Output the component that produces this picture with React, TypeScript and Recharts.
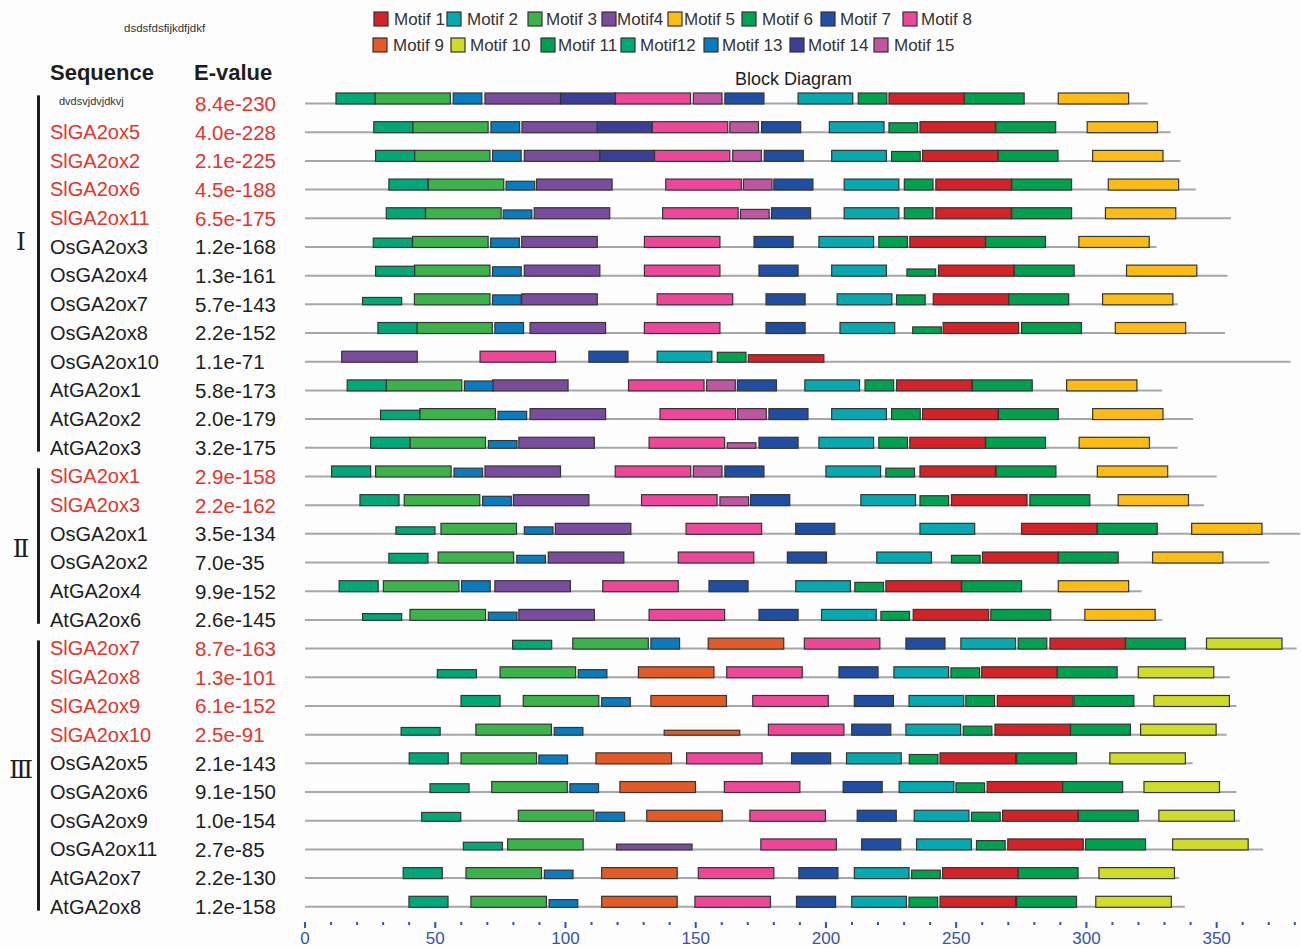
import React from "react";
import { BarChart, Bar, XAxis, YAxis } from "recharts";

// sequence rows, top to bottom
const sequences = [
  "dvdsvjdvjdkvj", "SlGA2ox5", "SlGA2ox2", "SlGA2ox6", "SlGA2ox11", "OsGA2ox3", "OsGA2ox4",
  "OsGA2ox7", "OsGA2ox8", "OsGA2ox10", "AtGA2ox1", "AtGA2ox2", "AtGA2ox3",
  "SlGA2ox1", "SlGA2ox3", "OsGA2ox1", "OsGA2ox2", "AtGA2ox4", "AtGA2ox6",
  "SlGA2ox7", "SlGA2ox8", "SlGA2ox9", "SlGA2ox10", "OsGA2ox5", "OsGA2ox6", "OsGA2ox9",
  "OsGA2ox11", "AtGA2ox7", "AtGA2ox8",
];

const eValues = [
  "8.4e-230", "4.0e-228", "2.1e-225", "4.5e-188", "6.5e-175", "1.2e-168", "1.3e-161",
  "5.7e-143", "2.2e-152", "1.1e-71", "5.8e-173", "2.0e-179", "3.2e-175",
  "2.9e-158", "2.2e-162", "3.5e-134", "7.0e-35", "9.9e-152", "2.6e-145",
  "8.7e-163", "1.3e-101", "6.1e-152", "2.5e-91", "2.1e-143", "9.1e-150", "1.0e-154",
  "2.7e-85", "2.2e-130", "1.2e-158",
];

const seqLengths = [
  323.5, 332.3, 336.1, 342.0, 355.5, 326.9, 354.2, 335.0, 353.2, 378.4, 329.1, 341.0, 335.0,
  350.0, 345.1, 382.0, 370.2, 321.2, 329.1,
  380.7, 355.1, 357.6, 353.8, 340.8, 357.6, 358.9, 367.9, 335.6, 337.8,
];

// motif site start positions per sequence (null = motif not found)
const motif1Starts = [224.2, 236.1, 237.1, 242.2, 242.2, 232.2, 243.2, 241.2, 245.0, 170.2, 227.1, 237.1, 232.2, 236.1, 248.2, 275.1, 260.1, 223.0, 233.5, 286.0, 259.8, 265.8, 264.9, 243.8, 261.9, 267.8, 269.8, 244.8, 243.8];
const motif2Starts = [189.3, 201.3, 202.2, 207.0, 207.0, 197.3, 202.2, 204.3, 205.4, 135.2, 191.9, 202.2, 197.3, 200.0, 213.4, 236.1, 219.5, 188.4, 198.3, 251.8, 226.1, 231.9, 230.7, 207.9, 228.1, 233.9, 234.8, 210.9, 209.9];
const motif3Starts = [26.8, 41.3, 42.0, 47.3, 46.3, 41.3, 42.0, 42.0, 42.9, null, 31.2, 44.1, 40.3, 27.1, 38.1, 52.2, 51.1, 30.1, 40.3, 102.8, 74.9, 83.8, 65.6, 59.9, 71.7, 81.9, 77.8, 61.8, 63.7];
const motif4Starts = [69.1, 83.3, 84.2, 88.9, 88.0, 83.2, 84.2, 83.2, 86.4, 14.1, 72.0, 86.4, 82.1, 69.1, 80.0, 96.1, 93.4, 72.9, 82.1, null, null, null, null, null, null, null, 119.6, null, null];
const motif5Starts = [289.2, 300.3, 302.4, 308.4, 307.3, 297.1, 315.4, 306.2, 311.1, null, 292.4, 302.4, 297.2, 304.2, 312.2, 340.4, 325.4, 289.2, 299.4, null, null, null, null, null, null, null, null, null, null];
const motif6Starts = [212.4, 224.2, 225.2, 230.1, 230.1, 220.3, 231.1, 227.1, 233.3, 158.3, 215.0, 225.2, 220.3, 223.0, 236.1, null, 248.2, 211.1, 221.1, 273.8, 248.0, 253.7, 252.7, 232.0, 249.9, 255.9, 257.8, 232.9, 231.9];
const motif7Starts = [161.2, 175.3, 176.3, 180.0, 179.1, 172.4, 174.3, 177.0, 177.0, 109.0, 166.0, 178.1, 174.3, 161.2, 171.1, 188.4, 185.2, 155.1, 174.3, 230.7, 205.0, 210.9, 209.9, 186.8, 206.6, 212.0, 213.7, 189.6, 188.7];
const motif8Starts = [119.0, 133.3, 134.1, 138.5, 137.3, 130.3, 130.3, 135.2, 130.3, 67.2, 124.2, 136.3, 132.1, 119.1, 129.2, 146.3, 143.3, 114.3, 132.1, 191.7, 161.9, 171.9, 177.9, 146.5, 161.0, 170.8, 175.0, 151.0, 149.7];
const motif9Starts = [null, null, null, null, null, null, null, null, null, null, null, null, null, null, null, null, null, null, null, 154.8, 128.0, 132.8, 137.9, 111.7, 120.9, 131.2, null, 113.9, 113.9];
const motif10Starts = [null, null, null, null, null, null, null, null, null, null, null, null, null, null, null, null, null, null, null, 346.1, 319.9, 325.9, 320.8, 309.0, 322.1, 327.8, 333.1, 304.8, 303.6];
const motif11Starts = [253.1, 265.2, 266.1, 271.3, 271.3, 261.3, 272.3, 270.2, 275.1, null, 256.2, 266.2, 261.3, 265.3, 278.3, 304.2, 289.2, 252.1, 263.3, 315.0, 288.8, 295.2, 293.9, 273.2, 290.9, 296.9, 299.7, 273.8, 273.2];
const motif12Starts = [11.9, 26.4, 27.1, 32.2, 31.2, 26.2, 27.1, 22.1, 28.0, null, 16.2, 29.0, 25.2, 10.2, 21.1, 34.9, 32.2, 13.1, 22.1, 79.7, 50.8, 59.9, 36.9, 40.0, 48.0, 44.8, 60.8, 37.7, 39.9];
const motif13Starts = [56.9, 71.4, 72.0, 77.2, 76.1, 71.3, 72.0, 72.0, 72.9, null, 61.2, 74.1, 70.4, 57.2, 68.2, 84.2, 81.3, 60.1, 70.4, 132.8, 104.9, 113.9, 95.7, 89.8, 101.7, 111.7, null, 91.9, 93.7];
const motif14Starts = [98.2, 112.2, 113.2, null, null, null, null, null, null, null, null, null, null, null, null, null, null, null, null, null, null, null, null, null, null, null, null, null, null];
const motif15Starts = [149.1, 163.1, 164.2, 168.3, 167.2, null, null, null, null, null, 154.2, 166.1, 162.1, 149.1, 159.3, null, null, null, null, null, null, null, null, null, null, null, null, null, null];

const motifStarts = [
  motif1Starts, motif2Starts, motif3Starts, motif4Starts, motif5Starts,
  motif6Starts, motif7Starts, motif8Starts, motif9Starts, motif10Starts,
  motif11Starts, motif12Starts, motif13Starts, motif14Starts, motif15Starts,
];

// motif widths in residues
const motifLengths = [29, 21, 29, 29, 27, 11, 15, 29, 29, 29, 23, 15, 11, 21, 11];

const motifNames = [
  "Motif 1", "Motif 2", "Motif 3", "Motif4", "Motif 5", "Motif 6", "Motif 7", "Motif 8",
  "Motif 9", "Motif 10", "Motif 11", "Motif12", "Motif 13", "Motif 14", "Motif 15",
];

const motifColors = [
  "#d42229", "#07a9b1", "#3bb34a", "#794c9e", "#fcbb15", "#00a24f", "#1f4ea2", "#ee4698",
  "#e35a26", "#cfdc2a", "#00a04e", "#00a877", "#0a7bbf", "#3b3f98", "#bf56a1",
];

// weaker sites drawn with reduced box height: [sequence, motif, relative height]
const partialHits: [string, number, number][] = [
  ["SlGA2ox5", 6, 0.9], ["SlGA2ox2", 6, 0.9],
  ["SlGA2ox6", 13, 0.8], ["SlGA2ox11", 13, 0.8], ["SlGA2ox11", 15, 0.85],
  ["OsGA2ox3", 12, 0.85], ["OsGA2ox3", 13, 0.85],
  ["OsGA2ox4", 12, 0.9], ["OsGA2ox4", 13, 0.85], ["OsGA2ox4", 6, 0.65],
  ["OsGA2ox7", 12, 0.67], ["OsGA2ox7", 13, 0.9], ["OsGA2ox7", 6, 0.9],
  ["OsGA2ox8", 6, 0.6], ["OsGA2ox10", 6, 0.9], ["OsGA2ox10", 1, 0.68],
  ["AtGA2ox1", 13, 0.9], ["AtGA2ox2", 12, 0.85], ["AtGA2ox2", 13, 0.75],
  ["AtGA2ox3", 13, 0.7], ["AtGA2ox3", 15, 0.5],
  ["SlGA2ox1", 13, 0.8], ["SlGA2ox1", 6, 0.8],
  ["SlGA2ox3", 13, 0.85], ["SlGA2ox3", 15, 0.8], ["SlGA2ox3", 6, 0.9],
  ["OsGA2ox1", 12, 0.68], ["OsGA2ox1", 13, 0.68],
  ["OsGA2ox2", 12, 0.88], ["OsGA2ox2", 13, 0.7], ["OsGA2ox2", 6, 0.7],
  ["AtGA2ox4", 6, 0.85], ["AtGA2ox6", 12, 0.62], ["AtGA2ox6", 13, 0.75], ["AtGA2ox6", 6, 0.82],
  ["SlGA2ox7", 12, 0.8], ["SlGA2ox8", 12, 0.74], ["SlGA2ox8", 13, 0.74], ["SlGA2ox8", 6, 0.9],
  ["SlGA2ox9", 13, 0.8],
  ["SlGA2ox10", 12, 0.7], ["SlGA2ox10", 13, 0.7], ["SlGA2ox10", 9, 0.45], ["SlGA2ox10", 6, 0.82],
  ["OsGA2ox5", 13, 0.8], ["OsGA2ox5", 6, 0.85],
  ["OsGA2ox6", 12, 0.8], ["OsGA2ox6", 13, 0.8], ["OsGA2ox6", 6, 0.88],
  ["OsGA2ox9", 12, 0.8], ["OsGA2ox9", 13, 0.82], ["OsGA2ox9", 6, 0.82],
  ["OsGA2ox11", 12, 0.7], ["OsGA2ox11", 4, 0.53], ["OsGA2ox11", 6, 0.85],
  ["AtGA2ox7", 13, 0.77], ["AtGA2ox7", 6, 0.77],
  ["AtGA2ox8", 13, 0.7], ["AtGA2ox8", 6, 0.92],
];

const groups = [
  { label: "Ⅰ", first: "dvdsvjdvjdkvj", last: "AtGA2ox3", labelAt: 5 },
  { label: "Ⅱ", first: "SlGA2ox1", last: "AtGA2ox6", labelAt: 15.7 },
  { label: "Ⅲ", first: "SlGA2ox7", last: "AtGA2ox8", labelAt: 23.4 },
];

const axisTicks = [
  0, 10, 20, 30, 40, 50, 60, 70, 80, 90, 100, 110, 120, 130, 140, 150, 160, 170, 180, 190,
  200, 210, 220, 230, 240, 250, 260, 270, 280, 290, 300, 310, 320, 330, 340, 350, 360, 370, 380,
];

const chartData = sequences.map((name, i) => {
  const row: Record<string, any> = { name, seq: [0, seqLengths[i]] };
  motifStarts.forEach((starts, k) => {
    const s = starts[i];
    row[`m${k + 1}`] = s == null ? null : [s, s + motifLengths[k]];
    row[`f${k + 1}`] = 1;
  });
  return row;
});
partialHits.forEach(([name, motif, frac]) => {
  chartData[sequences.indexOf(name)][`f${motif}`] = frac;
});

const W = 1301;
const H = 948;
const TOP = 84;
const PLOT_BOTTOM = 916;
const BAND = (PLOT_BOTTOM - TOP) / sequences.length;
const FONT = '"Liberation Sans", Arial, Helvetica, sans-serif';
const RED = "#e4342b";
const INK = "#1e1e1e";
const AXIS_BLUE = "#3552ad";

const motifShape = (k: number) => (props: any) => {
  const { x, y, width, height, payload } = props;
  if (!(width > 0)) return <g />;
  const h = height * (payload[`f${k}`] ?? 1);
  return (
    <rect
      x={x}
      y={y + height - h}
      width={width}
      height={h}
      fill={motifColors[k - 1]}
      stroke="#353535"
      strokeWidth={1.2}
    />
  );
};

const backboneShape = (props: any) => {
  const { x, y, width, height } = props;
  if (!(width > 0)) return <g />;
  const ly = y + height - 0.5;
  return <line x1={x} x2={x + width} y1={ly} y2={ly} stroke="#a3a8ab" strokeWidth={2} />;
};

function SequenceTick(props: any) {
  const { y, payload } = props;
  const i = sequences.indexOf(payload.value);
  const name = sequences[i];
  const highlight = name.startsWith("Sl");
  const g = groups.find(
    (gr) => i >= sequences.indexOf(gr.first) && i <= sequences.indexOf(gr.last)
  )!;
  const first = i === sequences.indexOf(g.first);
  const last = i === sequences.indexOf(g.last);
  const top = first ? y - 3 : y - BAND / 2 - 0.5;
  const bottom = last ? y + 9 : y + BAND / 2 + 0.5;
  const showLabel = Math.floor(g.labelAt) === i;
  return (
    <g>
      <rect x={37} y={top} width={3} height={bottom - top} fill={INK} />
      {showLabel && (
        <text
          x={21}
          y={y + (g.labelAt - i) * BAND}
          textAnchor="middle"
          dominantBaseline="central"
          fontFamily='"DejaVu Serif", "Liberation Serif", serif'
          fontSize={25}
          fill={INK}
        >
          {g.label}
        </text>
      )}
      {i === 0 ? (
        <text x={59} y={y + 3} dominantBaseline="central" fontFamily={FONT} fontSize={11} fill="#333">
          {name}
        </text>
      ) : (
        <text
          x={50}
          y={y + 5}
          dominantBaseline="central"
          fontFamily={FONT}
          fontSize={20}
          fill={highlight ? RED : INK}
        >
          {name}
        </text>
      )}
      <text
        x={195}
        y={y + 5}
        dominantBaseline="central"
        fontFamily={FONT}
        fontSize={20.5}
        fill={highlight || i === 0 ? RED : INK}
      >
        {eValues[i]}
      </text>
    </g>
  );
}

function PositionTick(props: any) {
  const { x, y, payload } = props;
  const v = payload.value as number;
  if (v % 50 !== 0) {
    return <rect x={x - 1} y={y + 6} width={2} height={3} fill={AXIS_BLUE} />;
  }
  return (
    <g>
      <rect x={x - 1} y={y + 6} width={2} height={6} fill={AXIS_BLUE} />
      <text
        x={x}
        y={y + 22}
        textAnchor="middle"
        dominantBaseline="central"
        fontFamily={FONT}
        fontSize={17}
        fill={AXIS_BLUE}
      >
        {v}
      </text>
    </g>
  );
}

// legend layout: two rows of swatches
const legendRows = [
  { y: 19, items: [0, 1, 2, 3, 4, 5, 6, 7], sx: [374, 447, 528, 602, 668, 742, 821, 903], tx: [394, 467, 546, 617, 684, 762, 840, 921] },
  { y: 45, items: [8, 9, 10, 11, 12, 13, 14], sx: [373, 451, 541, 621, 704, 790, 874], tx: [393, 470, 558, 640, 722, 808, 894] },
];

function Header() {
  return (
    <svg
      width={W}
      height={H}
      style={{ position: "absolute", left: 0, top: 0, pointerEvents: "none" }}
    >
      <text x={124} y={28} dominantBaseline="central" fontFamily={FONT} fontSize={11.5} fill="#333">
        dsdsfdsfijkdfjdkf
      </text>
      <text x={50} y={72} dominantBaseline="central" fontFamily={FONT} fontSize={22} fontWeight="bold" fill={INK}>
        Sequence
      </text>
      <text x={194} y={72} dominantBaseline="central" fontFamily={FONT} fontSize={22} fontWeight="bold" fill={INK}>
        E-value
      </text>
      <text x={735} y={79} dominantBaseline="central" fontFamily={FONT} fontSize={18} fill={INK}>
        Block Diagram
      </text>
      {legendRows.map((row) =>
        row.items.map((k, j) => (
          <g key={k}>
            <rect
              x={row.sx[j]}
              y={row.y - 7}
              width={14}
              height={14}
              fill={motifColors[k]}
              stroke="#333"
              strokeWidth={1.2}
            />
            <text
              x={row.tx[j]}
              y={row.y}
              dominantBaseline="central"
              fontFamily={FONT}
              fontSize={17}
              fill="#333"
            >
              {motifNames[k]}
            </text>
          </g>
        ))
      )}
    </svg>
  );
}

export default function App() {
  return (
    <div
      style={{
        position: "absolute",
        left: 0,
        top: 0,
        width: W,
        height: H,
        background: "#fdfdfe",
      }}
    >
      <BarChart
        width={W}
        height={H}
        layout="vertical"
        data={chartData}
        margin={{ top: TOP, right: 1, bottom: 2, left: 0 }}
      >
        <XAxis
          type="number"
          domain={[0, 382]}
          ticks={axisTicks}
          interval={0}
          axisLine={false}
          tickLine={false}
          tickSize={0}
          tickMargin={0}
          height={30}
          tick={<PositionTick />}
        />
        <YAxis
          yAxisId="seq"
          type="category"
          dataKey="name"
          width={305}
          interval={0}
          axisLine={false}
          tickLine={false}
          tick={<SequenceTick />}
        />
        {motifColors.map((_, k) => (
          <YAxis key={k} yAxisId={`m${k + 1}`} type="category" dataKey="name" hide />
        ))}
        <Bar
          yAxisId="seq"
          dataKey="seq"
          barSize={11}
          shape={backboneShape}
          isAnimationActive={false}
        />
        {motifColors.map((c, k) => (
          <Bar
            key={k}
            yAxisId={`m${k + 1}`}
            dataKey={`m${k + 1}`}
            barSize={11}
            fill={c}
            shape={motifShape(k + 1)}
            isAnimationActive={false}
          />
        ))}
      </BarChart>
      <Header />
    </div>
  );
}
